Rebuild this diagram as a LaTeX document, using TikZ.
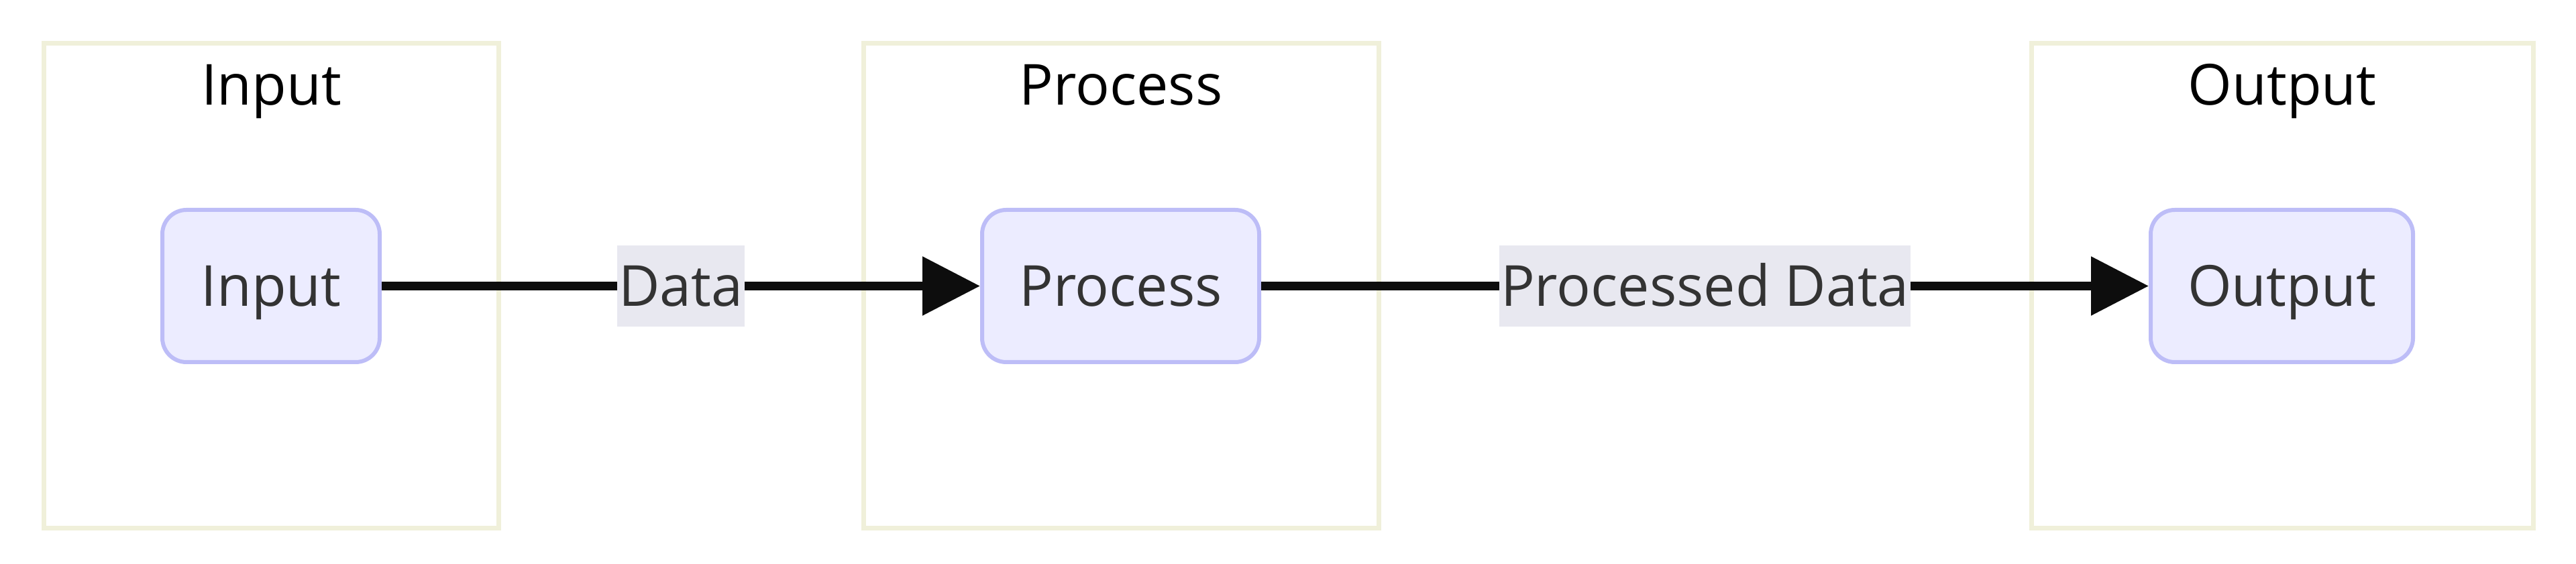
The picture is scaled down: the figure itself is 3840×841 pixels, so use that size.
\documentclass[tikz,border=0pt]{standalone}
\usepackage{fontspec}
\setmainfont{Open Sans}
\usetikzlibrary{arrows.meta}
\definecolor{framecol}{HTML}{F0F0DA}
\definecolor{nodefill}{HTML}{ECECFF}
\definecolor{nodestroke}{HTML}{BDBDF7}
\definecolor{labelbg}{HTML}{E8E8F0}
\definecolor{txtcol}{HTML}{333333}
\definecolor{edgecol}{HTML}{0D0D0D}
\tikzset{
  every node/.style={font=\fontsize{21.1pt}{25pt}\selectfont},
  frame/.style={draw=framecol, line width=1.75pt},
  frametitle/.style={anchor=base, text=black, inner sep=0pt},
  procbox/.style={draw=nodestroke, fill=nodefill, line width=1.5pt, rounded corners=9pt,
    text=txtcol, minimum height=56.75pt, text height=15.07pt, text depth=0pt, inner sep=0pt},
  edgelabel/.style={fill=labelbg, text=txtcol, inner xsep=0.6pt, inner ysep=0pt,
    text height=22.66pt, text depth=7.59pt},
  flow/.style={draw=edgecol, line width=3.25pt, -{Triangle[length=21.5pt,width=21.25pt]}}
}
\begin{document}
\begin{tikzpicture}[x=0.25pt, y=-0.25pt]
\useasboundingbox (0,0) rectangle (3840,841);
% clusters
\draw[frame] (65,65) rectangle (743,788);
\draw[frame] (1287,65) rectangle (2055,788);
\draw[frame] (3028,65) rectangle (3776,788);
\node[frametitle] (tin) at (404.5,157) {Input};
\node[frametitle] (tproc) at (1671,157) {Process};
\node[frametitle] (tout) at (3402,157) {Output};
% nodes
\node[procbox, minimum width=81pt] (in) at (404,426.5) {Input};
\node[procbox, minimum width=103.25pt] (proc) at (1670.5,426.5) {Process};
\node[procbox, minimum width=97.75pt] (out) at (3401.5,426.5) {Output};
% edges
\draw[flow] (in) -- node[edgelabel] (l1) {Data} (proc);
\draw[flow] (proc) -- node[edgelabel] (l2) {Processed Data} (out);
\end{tikzpicture}
\end{document}
